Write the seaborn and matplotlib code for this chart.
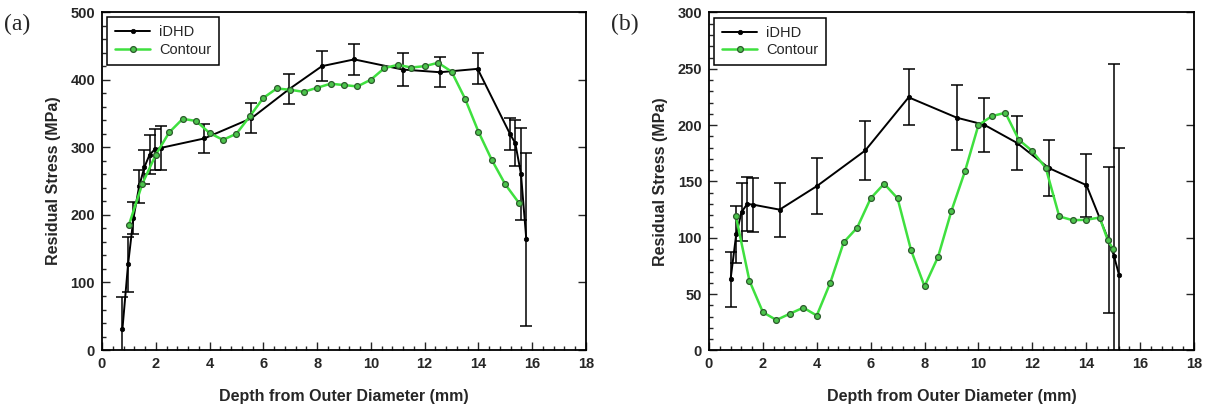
import numpy as np
import pandas as pd
import matplotlib
matplotlib.use("Agg")
import matplotlib.pyplot as plt
from matplotlib.ticker import MultipleLocator
import seaborn as sns

# ---------------- data ----------------
# Panel (a)
a_idhd_x = [0.76, 0.97, 1.17, 1.38, 1.58, 1.77, 1.97, 2.18, 3.8, 5.56, 6.96, 8.18, 9.38,
            11.18, 12.57, 13.97, 15.17, 15.37, 15.58, 15.78]
a_idhd_y = [31, 127, 195, 242, 271, 289, 297, 299, 313, 343, 386, 420, 430,
            415, 411, 416, 320, 306, 261, 164]
a_idhd_err = [47, 41, 24, 25, 25, 29, 30, 32, 22, 22, 22, 22, 23,
              24, 22, 23, 24, 34, 68, 128]
a_cont_x = [1.0, 1.5, 2.0, 2.5, 3.0, 3.5, 4.0, 4.5, 5.0, 5.5, 6.0, 6.5, 7.0, 7.5, 8.0,
            8.5, 9.0, 9.5, 10.0, 10.5, 11.0, 11.5, 12.0, 12.5, 13.0, 13.5, 14.0, 14.5,
            15.0, 15.5]
a_cont_y = [185, 246, 289, 322, 342, 339, 321, 311, 320, 346, 373, 387, 385, 382, 388,
            394, 392, 390, 400, 417, 422, 418, 420, 425, 412, 372, 323, 281, 245, 218]

# Panel (b)
b_idhd_x = [0.80, 1.01, 1.21, 1.42, 1.62, 2.62, 4.01, 5.80, 7.41, 9.20, 10.21, 11.42,
            12.61, 14.01, 14.83, 15.03, 15.22]
b_idhd_y = [63, 103, 123, 130, 129.5, 125, 146, 177.5, 224.7, 206.6, 200.4, 184.4,
            162, 146.7, 98, 84, 67]
b_idhd_err = [24, 25, 25.5, 24, 24, 24, 25, 26, 25, 29, 24, 24, 25, 28, 65, 170, 113]
b_cont_x = [1.0, 1.5, 2.0, 2.5, 3.0, 3.5, 4.0, 4.5, 5.0, 5.5, 6.0, 6.5, 7.0, 7.5, 8.0,
            8.5, 9.0, 9.5, 10.0, 10.5, 11.0, 11.5, 12.0, 12.5, 13.0, 13.5, 14.0, 14.5,
            14.8, 15.0]
b_cont_y = [119, 62, 34, 27, 32.6, 38, 31, 60, 96, 109, 135, 148, 135, 89, 57,
            83, 124, 159, 200, 208, 211, 187, 177, 162, 119, 115.6, 116, 118, 98, 90]

x_ticks = [0, 2, 4, 6, 8, 10, 12, 14, 16, 18]
xlabel = "Depth from Outer Diameter (mm)"
ylabel = "Residual Stress (MPa)"
series_names = ["iDHD", "Contour"]

# ---------------- style ----------------
sns.set_style("ticks")
plt.rcParams["font.family"] = ["Liberation Sans", "DejaVu Sans"]

GREEN = "#3fe03f"
GREEN_FACE = "#4cc44c"
GREEN_EDGE = "#2c5a2c"

fig = plt.figure(figsize=(12.07, 4.08), dpi=100)
ax_a = fig.add_axes([0.0845, 0.142, 0.401, 0.8284])
ax_b = fig.add_axes([0.5874, 0.141, 0.4018, 0.8284])


def draw(ax, ix, iy, ierr, cx, cy, ymax, ymaj, ymin):
    ax.errorbar(ix, iy, yerr=ierr, fmt="none", ecolor="black", elinewidth=1.1,
                capsize=4, capthick=1.1, zorder=2)
    d1 = pd.DataFrame({"x": ix, "y": iy})
    d2 = pd.DataFrame({"x": cx, "y": cy})
    sns.lineplot(data=d1, x="x", y="y", ax=ax, color="black", lw=1.4,
                 marker="o", markersize=3.2, markeredgewidth=0.5,
                 markeredgecolor="black", markerfacecolor="black",
                 label=series_names[0], sort=False, estimator=None, zorder=3)
    sns.lineplot(data=d2, x="x", y="y", ax=ax, color=GREEN, lw=1.8,
                 marker="o", markersize=4.2, markeredgewidth=0.9,
                 markeredgecolor=GREEN_EDGE, markerfacecolor=GREEN_FACE,
                 label=series_names[1], sort=False, estimator=None, zorder=4)
    ax.set_xlim(0, 18)
    ax.set_ylim(0, ymax)
    ax.set_xticks(x_ticks)
    ax.xaxis.set_minor_locator(MultipleLocator(0.4))
    ax.yaxis.set_major_locator(MultipleLocator(ymaj))
    ax.yaxis.set_minor_locator(MultipleLocator(ymin))
    ax.tick_params(which="both", direction="in", top=False, right=True,
                   labelsize=10.5, pad=5, width=1.0)
    ax.tick_params(which="major", length=5.5)
    ax.tick_params(which="minor", length=3, right=False)
    for lab in ax.get_xticklabels() + ax.get_yticklabels():
        lab.set_fontweight("bold")
    ax.set_xlabel(xlabel, fontsize=11.5, fontweight="bold", labelpad=13)
    ax.set_ylabel(ylabel, fontsize=11.5, fontweight="bold", labelpad=7)
    for s in ax.spines.values():
        s.set_linewidth(1.3)
        s.set_color("black")
    leg = ax.legend(loc="upper left", fontsize=10.5, frameon=True, fancybox=False,
                    edgecolor="black", handlelength=2.4, borderpad=0.55,
                    labelspacing=0.25, handletextpad=0.6, borderaxespad=0.35)
    leg.get_frame().set_linewidth(1.1)
    leg.get_frame().set_alpha(1)


draw(ax_a, a_idhd_x, a_idhd_y, a_idhd_err, a_cont_x, a_cont_y, 500, 100, 20)
draw(ax_b, b_idhd_x, b_idhd_y, b_idhd_err, b_cont_x, b_cont_y, 300, 50, 10)

fig.text(0.003, 0.94, "(a)", fontsize=17, family=["Liberation Serif", "DejaVu Serif"],
         va="center", ha="left")
fig.text(0.506, 0.94, "(b)", fontsize=17, family=["Liberation Serif", "DejaVu Serif"],
         va="center", ha="left")

fig.savefig("out.png", dpi=100, facecolor="white")
